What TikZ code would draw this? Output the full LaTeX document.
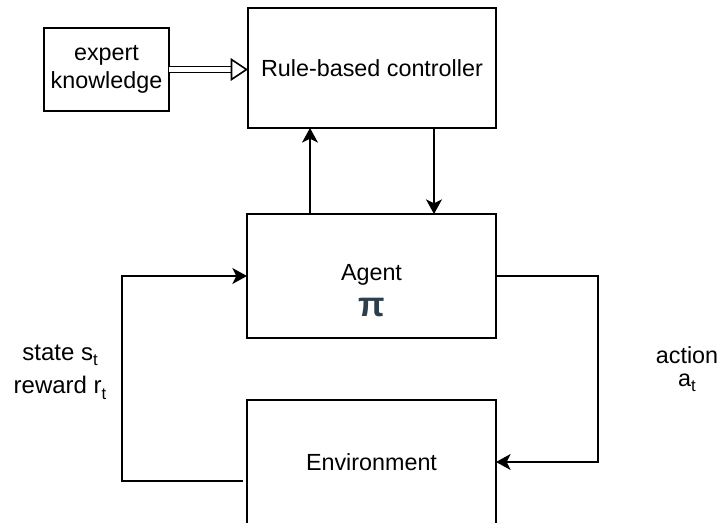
\documentclass[tikz,border=0pt]{standalone}
\usepackage{fontspec}
\setmainfont{Liberation Sans}
\usetikzlibrary{arrows.meta,calc,positioning}
\definecolor{pislate}{RGB}{47,62,75}
\newcommand{\lowsub}[1]{\raisebox{-4pt}{\fontsize{12.5}{12.5}\selectfont #1}}

\begin{document}
\begin{tikzpicture}[x=0.75pt,y=-0.75pt,
  box/.style={draw,line width=1.2pt,inner sep=0pt,outer sep=0pt},
  lbl/.style={font=\fontsize{17.5}{21.5}\selectfont,align=center,inner sep=0pt},
  flow/.style={line width=1.2pt,-{Stealth[length=11pt,width=12pt,inset=3pt]}}]
  \path[use as bounding box,clip] (0,0) rectangle (718,522);
  % boxes
  \node[box,lbl,minimum width=93.75pt,minimum height=62.25pt] (expert) at (106.5,69.5) {expert\\knowledge};
  \node[box,lbl,minimum width=186pt,minimum height=90pt] (ctrl) at (372,68) {Rule-based controller};
  \node[box,minimum width=186.75pt,minimum height=93pt] (agent) at (371.5,276) {};
  \node[lbl] (agentname) at (371.5,275) {Agent};
  \node[font=\fontsize{26}{26}\selectfont\bfseries,text=pislate,inner sep=0pt,anchor=base] (pi) at (371.5,316) {π};
  \node[box,lbl,minimum width=186.75pt,minimum height=93pt] (env) at (371.5,462) {Environment};
  % labels
  \node[lbl,font=\fontsize{18}{25}\selectfont] (state) at (60,372) {state s\lowsub{t}\\reward r\lowsub{t}};
  \node[lbl,font=\fontsize{17.5}{17.5}\selectfont] (action) at (687,369) {action\\a\lowsub{t}};
  % connectors
  \draw[line width=1.2pt,double distance=3.2pt,-{Triangle[open,length=13pt,width=17pt]}] (expert.east) -- (ctrl.west |- expert.east);
  \draw[flow] (310,0 |- agent.north) -- (310,0 |- ctrl.south);
  \draw[flow] (434,0 |- ctrl.south) -- (434,0 |- agent.north);
  \coordinate (envout) at ($(env.west)+(-4,19)$);
  \draw[flow] (envout) -- (122,0 |- envout) |- (agent.west);
  \draw[flow] (agent.east) -- (598,0 |- agent.east) |- (env.east);
\end{tikzpicture}
\end{document}
